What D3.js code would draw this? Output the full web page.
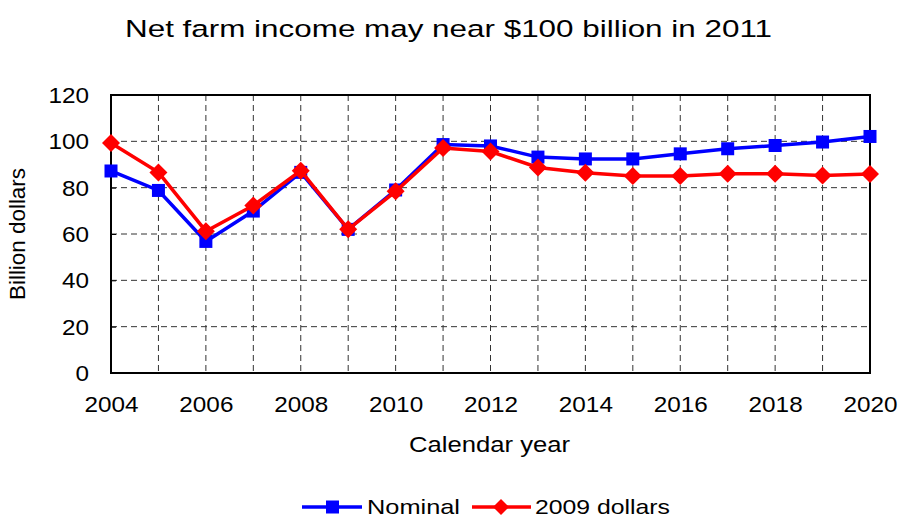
<!DOCTYPE html>
<html>
<head>
<meta charset="utf-8">
<script src="https://cdn.jsdelivr.net/npm/d3@7"></script>
<style>
  body { margin: 0; background: #fff; }
  svg { display: block; font-family: "Liberation Sans", Arial, sans-serif; }
</style>
</head>
<body>
<svg id="chart" width="901" height="517"></svg>
<script>
// Net farm income, billion dollars
const years = [2004, 2005, 2006, 2007, 2008, 2009, 2010, 2011, 2012, 2013, 2014, 2015, 2016, 2017, 2018, 2019, 2020];
const nominal = [87.2, 78.8, 56.8, 69.9, 86.6, 62.0, 79.0, 98.6, 98.0, 93.2, 92.4, 92.4, 94.6, 96.8, 98.2, 99.7, 102.1];
const real2009 = [99.3, 86.6, 61.2, 72.3, 87.3, 62.0, 78.4, 97.1, 95.6, 88.7, 86.4, 85.0, 85.0, 86.0, 86.0, 85.2, 85.9];
const xTickLabels = [2004, 2006, 2008, 2010, 2012, 2014, 2016, 2018, 2020];
const yTickLabels = [0, 20, 40, 60, 80, 100, 120];

const svg = d3.select("#chart");
const m = { left: 111, right: 870, top: 95, bottom: 373 };
const WIDE = 1.13; // horizontal stretch of the lettering

const x = d3.scaleLinear().domain([2004, 2020]).range([m.left, m.right]);
const y = d3.scaleLinear().domain([0, 120]).range([m.bottom, m.top]);

// Title
svg.append("text")
  .attr("x", 125).attr("y", 37)
  .attr("font-size", 24.5)
  .attr("textLength", 647).attr("lengthAdjust", "spacingAndGlyphs")
  .text("Net farm income may near $100 billion in 2011");

// Dashed gridlines
const grid = svg.append("g").attr("stroke", "#333").attr("stroke-width", 1).attr("stroke-dasharray", "6,4");
grid.selectAll("line.v").data(years.slice(1, -1)).join("line")
  .attr("x1", d => x(d)).attr("x2", d => x(d))
  .attr("y1", m.top).attr("y2", m.bottom);
grid.selectAll("line.h").data(yTickLabels.slice(1, -1)).join("line")
  .attr("x1", m.left).attr("x2", m.right)
  .attr("y1", d => y(d)).attr("y2", d => y(d));

// Plot frame
svg.append("rect")
  .attr("x", m.left).attr("y", m.top)
  .attr("width", m.right - m.left).attr("height", m.bottom - m.top)
  .attr("fill", "none").attr("stroke", "#000").attr("stroke-width", 2);

// Y axis with inward ticks
const yAxis = svg.append("g").attr("transform", `translate(${m.left},0)`)
  .call(d3.axisLeft(y).tickValues(yTickLabels).tickSize(-5));
yAxis.select(".domain").remove();
yAxis.selectAll("line").attr("stroke", "#000");
yAxis.selectAll("text")
  .attr("x", 0).attr("dy", "0.35em")
  .attr("transform", `translate(-22,0) scale(${WIDE},1)`)
  .attr("font-size", 21.5).attr("fill", "#000")
  .attr("font-family", "Liberation Sans, Arial, sans-serif");

// X axis labels
const xAxis = svg.append("g").attr("transform", `translate(0,${m.bottom})`)
  .call(d3.axisBottom(x).tickValues(xTickLabels).tickFormat(d3.format("d")).tickSize(0));
xAxis.select(".domain").remove();
xAxis.selectAll("text")
  .attr("y", 0).attr("dy", null)
  .attr("transform", `translate(0,39) scale(${WIDE},1)`)
  .attr("font-size", 21.5).attr("fill", "#000")
  .attr("font-family", "Liberation Sans, Arial, sans-serif");

// Axis titles
svg.append("text")
  .attr("x", 409).attr("y", 452)
  .attr("font-size", 22)
  .attr("textLength", 161).attr("lengthAdjust", "spacingAndGlyphs")
  .text("Calendar year");
svg.append("text")
  .attr("transform", "translate(25,300) rotate(-90)")
  .attr("font-size", 22)
  .attr("textLength", 132).attr("lengthAdjust", "spacingAndGlyphs")
  .text("Billion dollars");

const line = d3.line().x((d, i) => x(years[i])).y(d => y(d));
const diamond = s => `M0,${-s}L${s},0L0,${s}L${-s},0Z`;

// Nominal series
svg.append("path").datum(nominal)
  .attr("d", line).attr("fill", "none").attr("stroke", "#0000ff").attr("stroke-width", 3.5);
svg.append("g").selectAll("rect").data(nominal).join("rect")
  .attr("x", (d, i) => x(years[i]) - 6.5).attr("y", d => y(d) - 6.5)
  .attr("width", 13).attr("height", 13).attr("fill", "#0000ff");

// 2009 dollars series
svg.append("path").datum(real2009)
  .attr("d", line).attr("fill", "none").attr("stroke", "#ff0000").attr("stroke-width", 3.5);
svg.append("g").selectAll("path").data(real2009).join("path")
  .attr("transform", (d, i) => `translate(${x(years[i])},${y(d)})`)
  .attr("d", diamond(9)).attr("fill", "#ff0000");

// Legend
const lg = svg.append("g").attr("transform", "translate(0,507)");
lg.append("line").attr("x1", 302).attr("x2", 362).attr("stroke", "#0000ff").attr("stroke-width", 3.5);
lg.append("rect").attr("x", 326).attr("y", -6.5).attr("width", 13).attr("height", 13).attr("fill", "#0000ff");
lg.append("text").attr("x", 367).attr("y", 7).attr("font-size", 21)
  .attr("textLength", 93).attr("lengthAdjust", "spacingAndGlyphs").text("Nominal");
lg.append("line").attr("x1", 472).attr("x2", 531).attr("stroke", "#ff0000").attr("stroke-width", 3.5);
lg.append("path").attr("transform", "translate(501,0)").attr("d", diamond(8)).attr("fill", "#ff0000");
lg.append("text").attr("x", 535).attr("y", 7).attr("font-size", 21)
  .attr("textLength", 135).attr("lengthAdjust", "spacingAndGlyphs").text("2009 dollars");
</script>
</body>
</html>
